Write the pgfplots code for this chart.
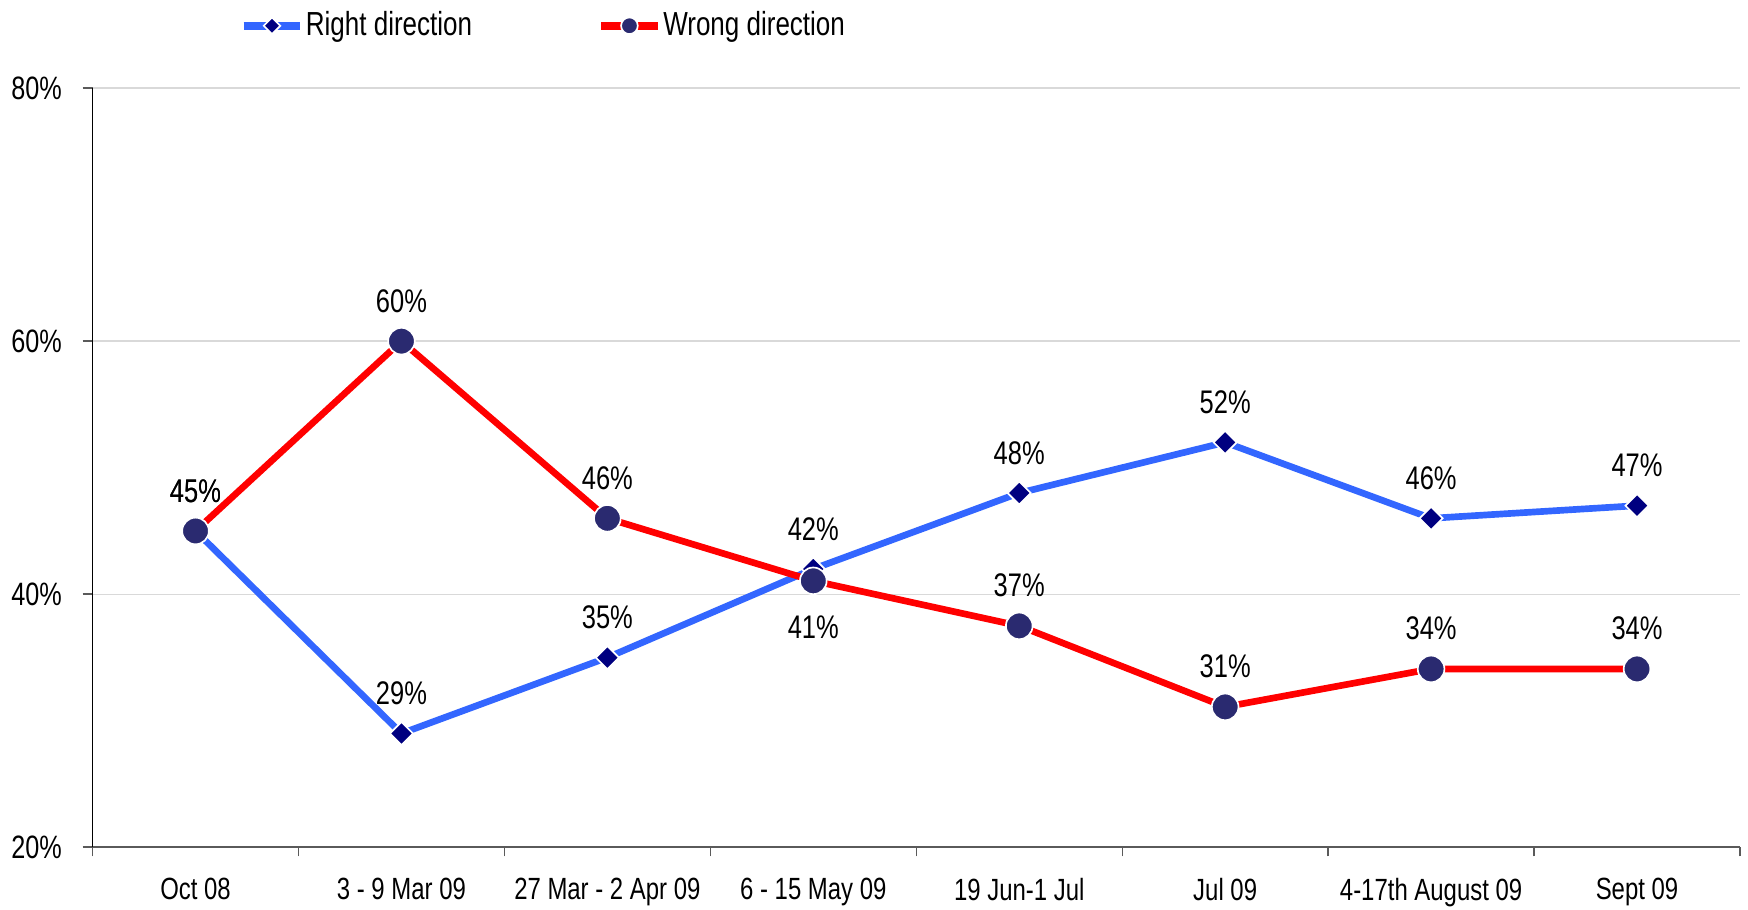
\documentclass[border=0pt]{standalone}
\usepackage{fontspec}
\setmainfont{Liberation Sans}[FakeStretch=0.78]
\usepackage{pgfplots}
\pgfplotsset{compat=1.18}
\definecolor{rightblue}{RGB}{51,102,255}
\definecolor{rightmark}{RGB}{0,0,128}
\definecolor{wrongred}{RGB}{255,0,0}
\definecolor{wrongmark}{RGB}{42,42,112}
\definecolor{gridgray}{RGB}{217,217,217}
\definecolor{axisgray}{RGB}{90,90,90}

\begin{document}
\begin{tikzpicture}
\begin{axis}[
    scale only axis, width=494pt, height=227.7pt,
    xmin=-0.5, xmax=7.5, ymin=20, ymax=80,
    axis x line*=bottom, axis y line*=left,
    x axis line style={-, draw=axisgray, line width=0.6pt},
    y axis line style={-, black, line width=0.4pt},
    tick align=outside,
    xtick={0,...,7},
    xticklabels={Oct 08, 3 - 9 Mar 09, 27 Mar - 2 Apr 09, 6 - 15 May 09,
        19 Jun-1 Jul, Jul 09, 4-17th August 09, Sept 09},
    major x tick style={draw=none},
    minor xtick={-0.5,0.5,...,7.5},
    minor tick length=2.7pt,
    minor x tick style={axisgray, line width=0.4pt},
    xticklabel style={font=\fontsize{9.2}{10}\selectfont, inner sep=0pt, yshift=-6pt},
    ytick={20,40,60,80},
    yticklabel={\pgfmathprintnumber{\tick}\%},
    yticklabel style={font=\fontsize{9.7}{10}\selectfont, xshift=-2.7pt},
    major y tick style={axisgray, line width=0.6pt},
    major tick length=3pt,
    /pgf/number format/assume math mode=true,
    ymajorgrids, major grid style={gridgray, line width=0.4pt},
    legend columns=2,
    legend style={draw=none, fill=none, inner sep=1pt,
        at={(axis description cs:0.087,1.082)}, anchor=west,
        font=\fontsize{10}{11}\selectfont,
        nodes={inner xsep=0.5pt},
        /tikz/every even column/.append style={column sep=37pt}},
    legend image code/.code={
        \draw[#1, mark repeat=2, mark phase=2, line width=2.3pt]
            plot coordinates {(0pt,0pt) (8.5pt,0pt) (17pt,0pt)};},
    point meta=explicit symbolic,
    nodes near coords,
    nodes near coords style={font=\fontsize{9.8}{10}\selectfont, anchor=south, yshift=5pt, text=black},
    clip=false,
]
\addplot[rightblue, line width=2pt, mark=square*, mark size=2.45pt,
    mark options={fill=rightmark, draw=white, line width=0.5pt, rotate=45},
    legend image post style={mark size=1.75pt}]
    coordinates {
    (0,45) [45\%]
    (1,29) [29\%]
    (2,35) [35\%]
    (3,42) [42\%]
    (4,48) [48\%]
    (5,52) [52\%]
    (6,46) [46\%]
    (7,47) [47\%]
};
\addlegendentry{Right direction}
\addplot[wrongred, line width=2pt, mark=*, mark size=4pt,
    mark options={fill=wrongmark, draw=white, line width=0.5pt},
    legend image post style={mark size=2.5pt}]
    coordinates {
    (0,45) [45\%]
    (1,60) [60\%]
    (2,46) [46\%]
    (3,41.06) []
    (4,37.5) [37\%]
    (5,31.1) [31\%]
    (6,34.1) [34\%]
    (7,34.1) [34\%]
};
\addlegendentry{Wrong direction}
\addplot[draw=none, mark=none, forget plot,
    nodes near coords style={anchor=north, yshift=-12pt}]
    coordinates {(3,41.06) [41\%]};
\end{axis}
\path ([xshift=-27.75pt,yshift=-18.6pt]current axis.south west)
    rectangle ([xshift=2.4pt,yshift=26.4pt]current axis.north east);
\end{tikzpicture}
\end{document}
